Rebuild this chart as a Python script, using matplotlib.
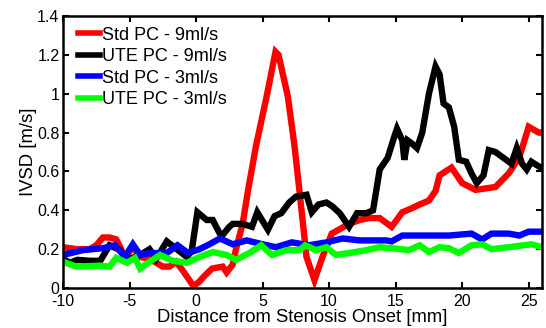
import matplotlib
matplotlib.use("Agg")
import matplotlib.pyplot as plt
import numpy as np

plt.rcParams['font.family'] = ['Liberation Sans', 'DejaVu Sans']

# Std PC - 9ml/s (red)
red_x = [-10, -9, -8, -7.5, -7, -6.5, -6, -5.7, -5.35, -4.75, -4.2, -3.5, -3, -2.5, -2, -1.5, -1,
         -0.5, -0.2, 0.2, 0.6, 1.2, 2, 2.3, 2.75, 3.0, 3.5, 3.9, 4.5, 5.3, 5.97, 6.2, 6.9, 7.4, 7.77,
         8.3, 8.9, 9.5, 10.2, 11.5, 12.3, 13, 13.8, 14.7, 15.5, 16.2, 16.8, 17.5, 18, 18.3, 19.2, 20,
         21, 22.5, 23.5, 24.3, 25, 25.75, 26]
red_y = [0.21, 0.20, 0.20, 0.22, 0.26, 0.26, 0.25, 0.21, 0.155, 0.21, 0.16, 0.15, 0.13, 0.11, 0.11,
         0.135, 0.09, 0.04, 0.01, 0.03, 0.06, 0.10, 0.11, 0.08, 0.12, 0.20, 0.33, 0.50, 0.73, 0.985,
         1.216, 1.20, 0.985, 0.73, 0.50, 0.16, 0.04, 0.16, 0.28, 0.33, 0.35, 0.36, 0.36, 0.315, 0.39,
         0.41, 0.43, 0.45, 0.50, 0.58, 0.62, 0.54, 0.505, 0.52, 0.59, 0.675, 0.83, 0.80, 0.80]

# UTE PC - 9ml/s (black)
black_x = [-10, -9.5, -8.9, -8, -7.2, -6.5, -5.7, -5.2, -4.2, -3.5, -3, -2.2, -1.45, -0.7, -0.33,
           0.1, 0.8, 1.25, 1.9, 2.5, 2.75, 3.5, 4.2, 4.6, 5.4, 5.9, 6.4, 7, 7.5, 8.3, 8.7, 9.2, 9.8,
           10.25, 10.8, 11.5, 12.1, 12.8, 13.3, 13.8, 14.4, 14.9, 15.1, 15.5, 15.65, 15.9, 16.2,
           16.6, 17, 17.5, 18, 18.3, 18.6, 19, 19.4, 19.75, 20.3, 20.7, 21.1, 21.6, 22, 22.5, 23.3,
           23.7, 24.1, 24.5, 24.85, 25.2, 25.9, 26]
black_y = [0.15, 0.13, 0.145, 0.14, 0.14, 0.22, 0.195, 0.145, 0.17, 0.20, 0.15, 0.24, 0.20, 0.16,
           0.19, 0.39, 0.35, 0.35, 0.265, 0.315, 0.33, 0.33, 0.315, 0.39, 0.30, 0.37, 0.385, 0.44,
           0.47, 0.48, 0.39, 0.43, 0.44, 0.42, 0.385, 0.315, 0.385, 0.385, 0.40, 0.61, 0.67, 0.78,
           0.82, 0.76, 0.66, 0.76, 0.745, 0.72, 0.80, 1.0, 1.14, 1.10, 0.95, 0.93, 0.83, 0.66, 0.65,
           0.59, 0.54, 0.58, 0.71, 0.70, 0.66, 0.64, 0.72, 0.64, 0.61, 0.65, 0.62, 0.62]

# Std PC - 3ml/s (blue)
blue_x = [-10, -8.5, -7, -6.1, -5.35, -4.75, -4.2, -3.5, -2.2, -1.4, -0.6, 0.27, 1, 1.8, 2.75, 3.8,
          5, 6, 7.2, 8.5, 9.8, 11, 12.3, 14.3, 14.7, 15.5, 17, 19, 20.7, 21.5, 22.2, 23.5, 24.3,
          25, 26]
blue_y = [0.17, 0.195, 0.205, 0.22, 0.16, 0.225, 0.17, 0.18, 0.18, 0.22, 0.18, 0.20, 0.225, 0.255,
          0.225, 0.245, 0.225, 0.21, 0.235, 0.22, 0.235, 0.255, 0.245, 0.245, 0.24, 0.27, 0.27,
          0.27, 0.28, 0.25, 0.28, 0.28, 0.27, 0.29, 0.29]

# UTE PC - 3ml/s (green)
green_x = [-10, -9, -7.2, -6.5, -6, -5.2, -4.6, -4.2, -3.5, -2.7, -1.75, -0.7, 0.27, 1.25, 2.3, 3,
           4, 4.9, 5.7, 6.8, 7.8, 8.2, 9, 9.8, 10.5, 11.5, 12.8, 13.8, 14.7, 16, 16.8, 17.5, 18.3,
           19, 19.75, 20.7, 21.5, 22.2, 23.5, 25.2, 26]
green_y = [0.135, 0.11, 0.115, 0.11, 0.155, 0.13, 0.155, 0.10, 0.135, 0.17, 0.14, 0.13, 0.16, 0.185,
           0.17, 0.145, 0.18, 0.22, 0.17, 0.195, 0.195, 0.22, 0.195, 0.21, 0.17, 0.18, 0.195, 0.21,
           0.205, 0.195, 0.22, 0.185, 0.21, 0.205, 0.18, 0.22, 0.225, 0.20, 0.21, 0.225, 0.21]

labels = ['Std PC - 9ml/s', 'UTE PC - 9ml/s', 'Std PC - 3ml/s', 'UTE PC - 3ml/s']
colors = ['#ff0000', '#000000', '#0000ff', '#00ff00']

fig = plt.figure(figsize=(5.46, 3.28), dpi=100)
ax = fig.add_axes([0.1154, 0.122, 0.8773, 0.829])

series = [(red_x, red_y), (black_x, black_y), (blue_x, blue_y), (green_x, green_y)]
for (xs, ys), c, lab in zip(series, colors, labels):
    ax.plot(xs, ys, color=c, lw=4.6, label=lab, solid_joinstyle='miter')

ax.set_xlim(-10, 26)
ax.set_ylim(0, 1.4)
ax.set_xticks([-10, -5, 0, 5, 10, 15, 20, 25])
ax.set_xticklabels(['-10', '-5', '0', '5', '10', '15', '20', '25'])
yt = [0, 0.2, 0.4, 0.6, 0.8, 1.0, 1.2, 1.4]
ax.set_yticks(yt)
ax.set_yticklabels(['0', '0.2', '0.4', '0.6', '0.8', '1', '1.2', '1.4'])
ax.tick_params(direction='in', top=True, right=True, length=4, width=1.5, labelsize=11.5)
ax.tick_params(axis='x', pad=4)
ax.tick_params(axis='y', pad=2.5)
for s in ax.spines.values():
    s.set_linewidth(1.8)
ax.set_xlabel('Distance from Stenosis Onset [mm]', fontsize=13.3, labelpad=0.5)
ax.set_ylabel('IVSD [m/s]', fontsize=13.3, labelpad=0)

leg = ax.legend(loc='upper left', bbox_to_anchor=(0.015, 0.99), frameon=False, fontsize=13,
                handlelength=1.2, handletextpad=0.12, labelspacing=0.25, borderaxespad=0.0,
                borderpad=0.43)
for h in leg.get_lines():
    h.set_linewidth(4.0)

fig.savefig('out.png', dpi=100)
